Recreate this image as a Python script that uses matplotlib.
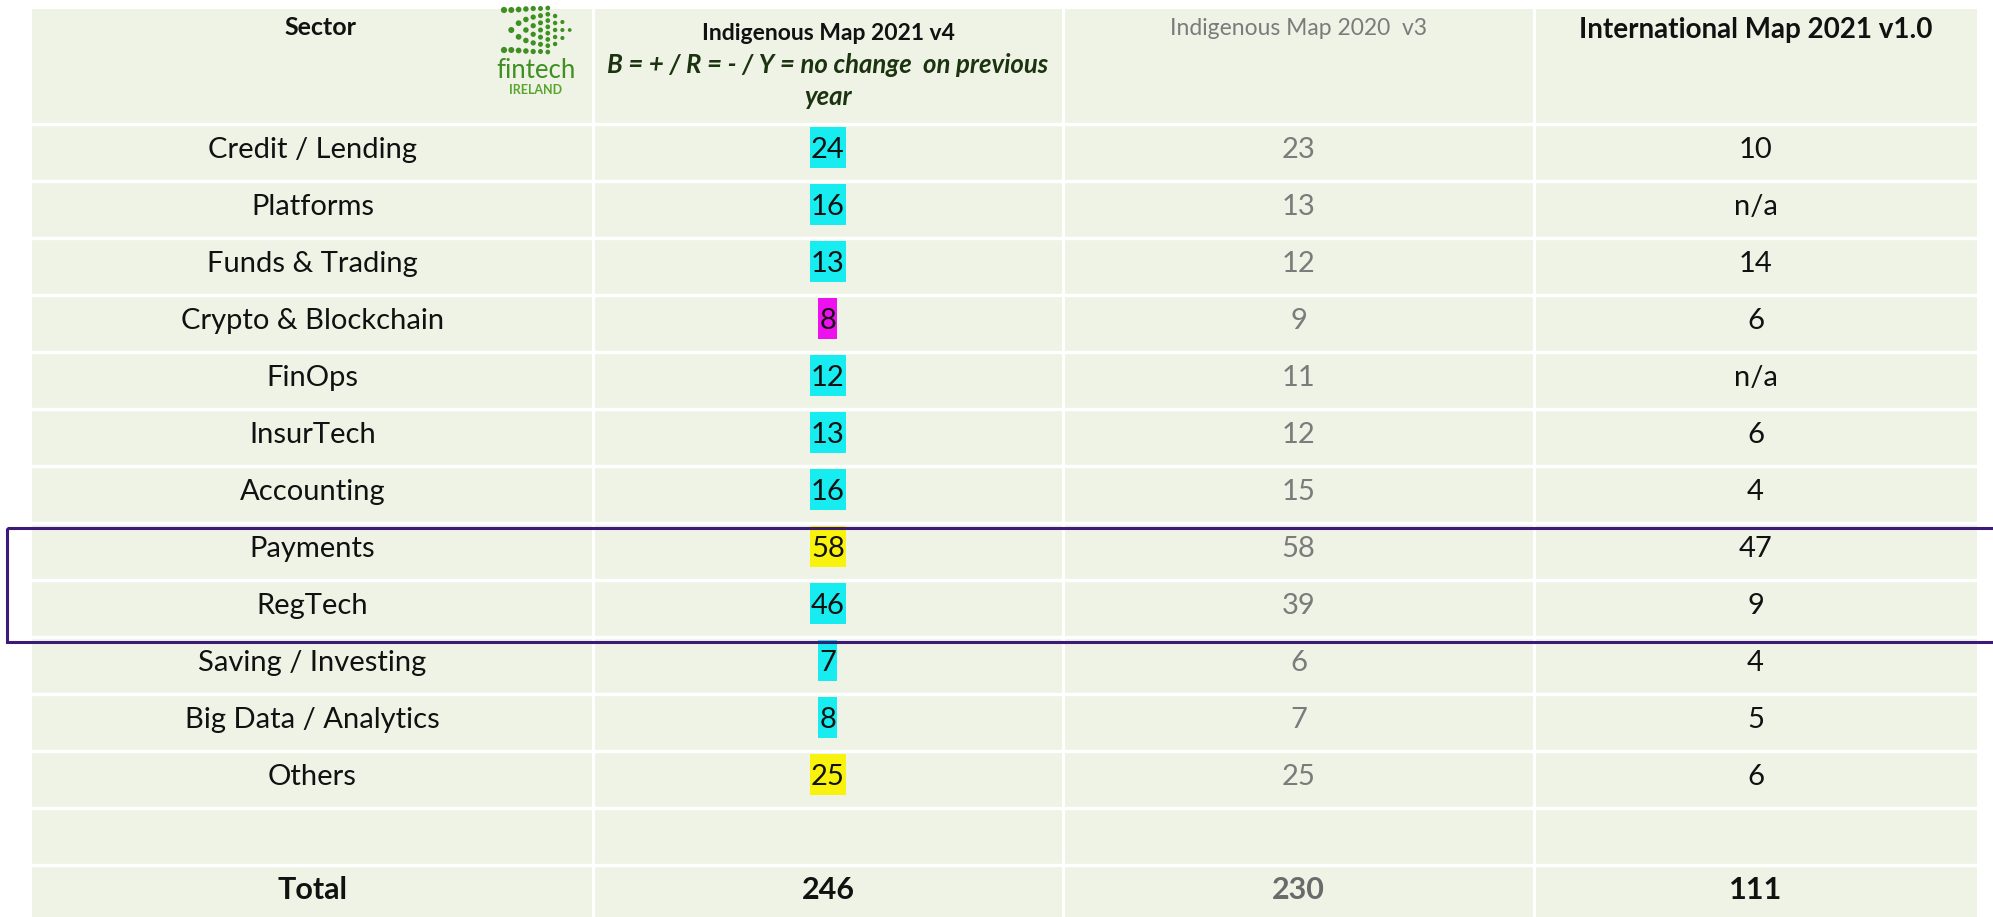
#!/usr/bin/env python3
"""Fintech Ireland sector map table, redrawn with matplotlib."""

import matplotlib
matplotlib.use('Agg')
import matplotlib.pyplot as plt
from matplotlib.patches import Rectangle

plt.rcParams['font.family'] = ['Lato', 'DejaVu Sans']

# data
sectors = ['Credit / Lending', 'Platforms', 'Funds & Trading', 'Crypto & Blockchain',
           'FinOps', 'InsurTech', 'Accounting', 'Payments', 'RegTech',
           'Saving / Investing', 'Big Data / Analytics', 'Others']
map_2021 = [24, 16, 13, 8, 12, 13, 16, 58, 46, 7, 8, 25]
map_2020 = [23, 13, 12, 9, 11, 12, 15, 58, 39, 6, 7, 25]
intl_2021 = ['10', 'n/a', '14', '6', 'n/a', '6', '4', '47', '9', '4', '5', '6']
total_2021 = 246
total_2020 = 230
total_intl = 111
boxed_sectors = ['Payments', 'RegTech']

headers = ['Sector', 'Indigenous Map 2021 v4', 'Indigenous Map 2020  v3',
           'International Map 2021 v1.0']
legend_note = ['B = + / R = - / Y = no change  on previous', 'year']

# palette
COL_BG = '#eef3e6'
COL_LINE = '#ffffff'
COL_TEXT = '#111111'
COL_GREY = '#7b7b7b'
COL_NOTE = '#1c3310'
COL_LOGO = '#3f8f22'
COL_BOX = '#3d1a78'
HI = {'up': '#17ecf0', 'down': '#ee10ee', 'same': '#f8f20c'}

# layout (pixels)
W, H = 1993, 917
X_EDGES = [32, 593, 1063, 1534, 1977]
TOP = 9
HEAD_BOT = 124
ROW_H = 57
BASE = 34

fig = plt.figure(figsize=(W / 100, H / 100), dpi=100)
fig.set_facecolor('white')
ax = fig.add_axes([0, 0, 1, 1])
ax.set_xlim(0, W)
ax.set_ylim(H, 0)
ax.axis('off')

n_rows = len(sectors) + 2
bottom = HEAD_BOT + ROW_H * n_rows
ax.add_patch(Rectangle((X_EDGES[0], TOP), X_EDGES[-1] - X_EDGES[0], bottom - TOP,
                       facecolor=COL_BG, edgecolor='none', zorder=0))
for x in X_EDGES[1:-1]:
    ax.plot([x, x], [TOP, bottom], color=COL_LINE, lw=2.2, zorder=1)
for i in range(n_rows):
    y = HEAD_BOT + ROW_H * i
    ax.plot([X_EDGES[0], X_EDGES[-1]], [y, y], color=COL_LINE, lw=2.4, zorder=1)

cx = [(a + b) / 2 for a, b in zip(X_EDGES[:-1], X_EDGES[1:])]

# header
ax.text(cx[0] + 8, 35, headers[0], ha='center', va='baseline', fontsize=18,
        fontweight='bold', color=COL_TEXT)
ax.text(cx[1], 40, headers[1], ha='center', va='baseline', fontsize=16.5,
        fontweight='bold', color=COL_TEXT)
ax.text(cx[1], 73, legend_note[0], ha='center', va='baseline', fontsize=18.5,
        fontweight='bold', style='italic', color=COL_NOTE)
ax.text(cx[1], 105, legend_note[1], ha='center', va='baseline', fontsize=18.5,
        fontweight='bold', style='italic', color=COL_NOTE)
ax.text(cx[2], 35, headers[2], ha='center', va='baseline', fontsize=16.5,
        color=COL_GREY)
ax.text(cx[3], 38, headers[3], ha='center', va='baseline', fontsize=20,
        fontweight='bold', color=COL_TEXT)

# fintech ireland logo
counts = [2, 3, 4, 5, 6, 7, 8, 5, 3, 1]
spans = [40, 40, 41, 42, 43, 43, 44, 28, 16, 0]
for j, (n, span) in enumerate(zip(counts, spans)):
    x = 504 + j * 7.3
    size = 20 - j * 1.4
    for k in range(n):
        y = 30 + (k / (n - 1) - 0.5) * span if n > 1 else 30
        ax.scatter(x, y, s=size, color=COL_LOGO, edgecolors='none', zorder=3)
ax.text(536, 78, 'fintech', ha='center', va='baseline', fontsize=18.5,
        color=COL_LOGO)
ax.text(536, 94, 'IRELAND', ha='center', va='baseline', fontsize=9,
        fontweight='bold', color='#5aa52f')

# body rows
for i, name in enumerate(sectors):
    top = HEAD_BOT + ROW_H * i
    yb = top + BASE
    ax.text(cx[0], yb, name, ha='center', va='baseline', fontsize=21,
            color=COL_TEXT, zorder=4)
    a, b = map_2021[i], map_2020[i]
    key = 'up' if a > b else ('down' if a < b else 'same')
    s = str(a)
    bw = 17 * len(s) + 2
    ax.add_patch(Rectangle((cx[1] - bw / 2, top + 3), bw, 41, facecolor=HI[key],
                           edgecolor='none', zorder=2))
    ax.text(cx[1], yb, s, ha='center', va='baseline', fontsize=21,
            color=COL_TEXT, zorder=4)
    ax.text(cx[2], yb, str(b), ha='center', va='baseline', fontsize=21,
            color=COL_GREY, zorder=4)
    ax.text(cx[3], yb, intl_2021[i], ha='center', va='baseline', fontsize=21,
            color=COL_TEXT, zorder=4)

# total row
top = HEAD_BOT + ROW_H * (n_rows - 1)
yb = top + BASE
ax.text(cx[0], yb, 'Total', ha='center', va='baseline', fontsize=22,
        fontweight='bold', color=COL_TEXT)
ax.text(cx[1], yb, str(total_2021), ha='center', va='baseline', fontsize=22,
        fontweight='bold', color=COL_TEXT)
ax.text(cx[2], yb, str(total_2020), ha='center', va='baseline', fontsize=22,
        fontweight='bold', color='#6a6a6a')
ax.text(cx[3], yb, str(total_intl), ha='center', va='baseline', fontsize=22,
        fontweight='bold', color=COL_TEXT)

# purple frame round the highlighted rows
r0 = sectors.index(boxed_sectors[0])
r1 = sectors.index(boxed_sectors[-1]) + 1
y0 = HEAD_BOT + ROW_H * r0 + 5
y1 = HEAD_BOT + ROW_H * r1 + 5
ax.add_patch(Rectangle((7, y0), W + 20, y1 - y0, facecolor='none',
                       edgecolor=COL_BOX, lw=2.2, zorder=5, clip_on=True))

fig.savefig('out.png', dpi=100, facecolor='white')
